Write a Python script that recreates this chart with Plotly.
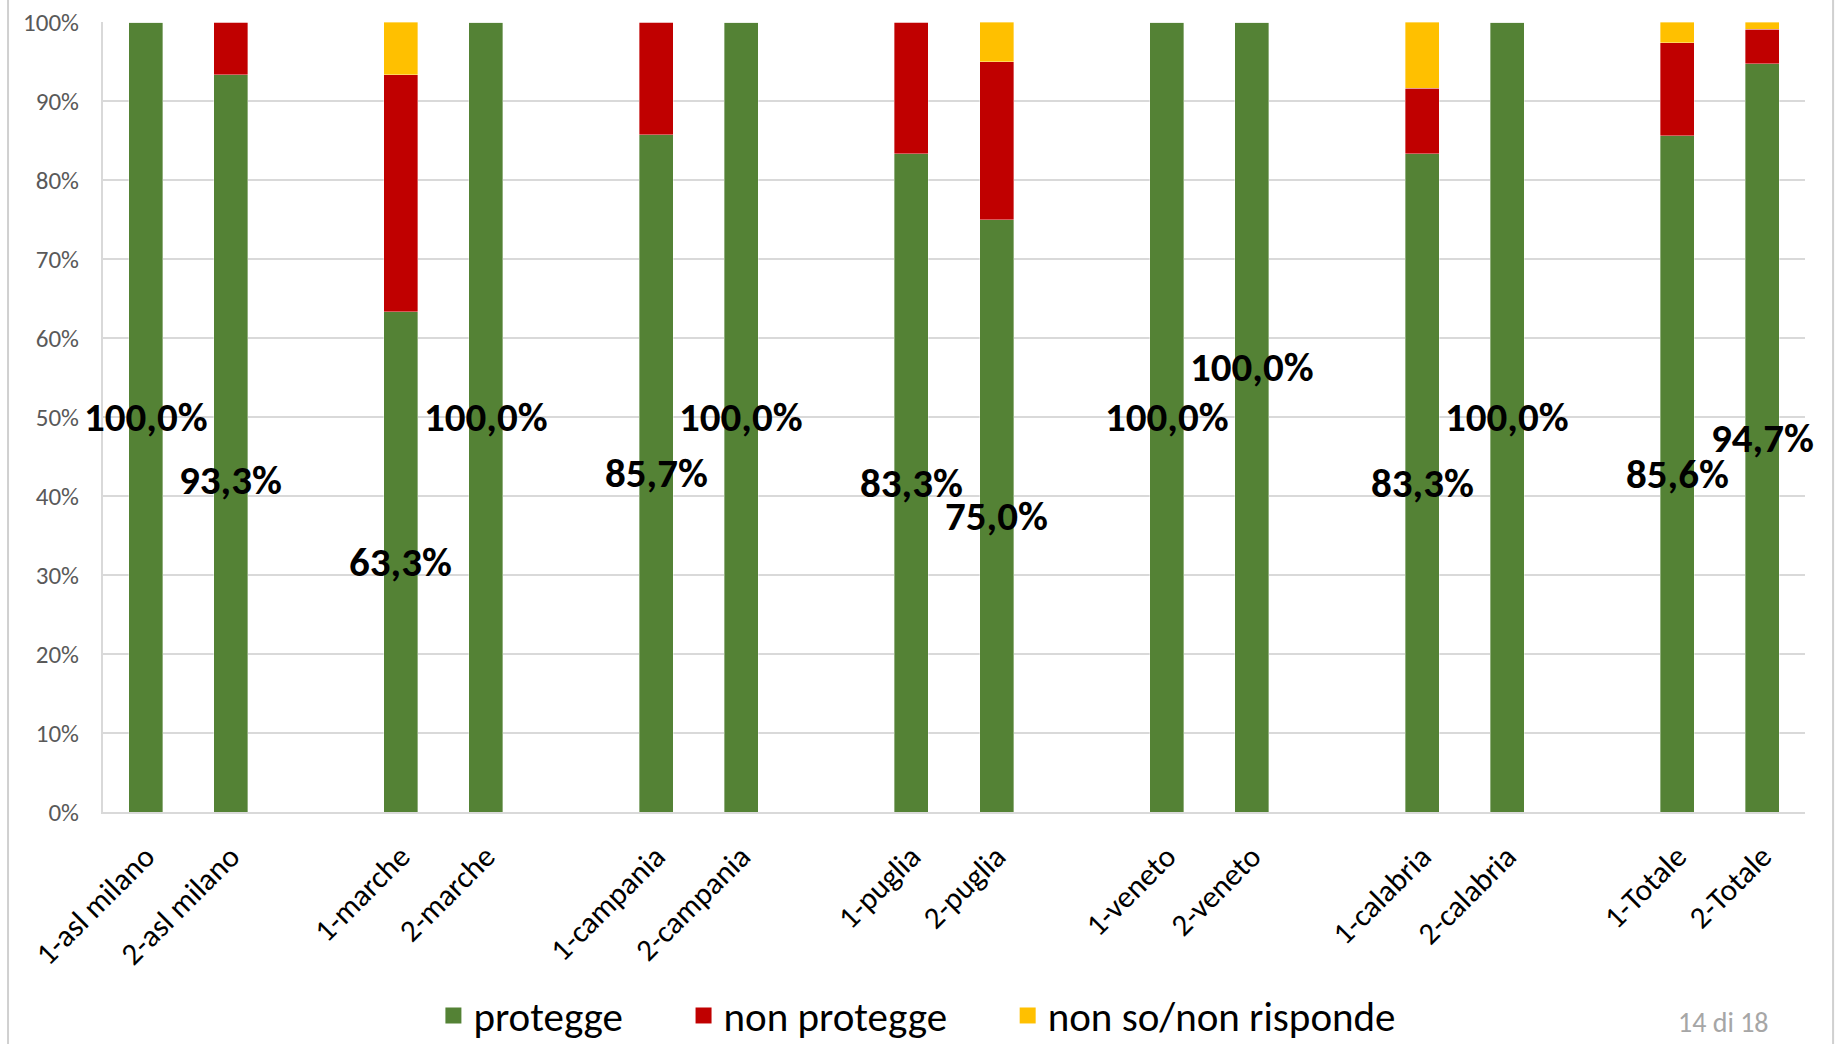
import plotly.graph_objects as go

# ---------------- data ----------------
categories = ["1-asl milano", "2-asl milano", "1-marche", "2-marche",
              "1-campania", "2-campania", "1-puglia", "2-puglia",
              "1-veneto", "2-veneto", "1-calabria", "2-calabria",
              "1-Totale", "2-Totale"]
protegge = [100.0, 93.3, 63.3, 100.0, 85.7, 100.0, 83.3, 75.0,
            100.0, 100.0, 83.3, 100.0, 85.6, 94.7]
non_protegge = [0.0, 6.7, 30.0, 0.0, 14.3, 0.0, 16.7, 20.0,
                0.0, 0.0, 8.3, 0.0, 11.8, 4.4]
non_so = [0.0, 0.0, 6.7, 0.0, 0.0, 0.0, 0.0, 5.0,
          0.0, 0.0, 8.4, 0.0, 2.6, 0.9]
series_names = ["protegge", "non protegge", "non so/non risponde"]
y_tick_values = [0, 10, 20, 30, 40, 50, 60, 70, 80, 90, 100]
y_tick_labels = [f"{v}%" for v in y_tick_values]
# data labels that were moved by hand in the original (value-axis units)
label_y_override = {"2-asl milano": 42.0, "2-veneto": 56.3}

colors = ["#548235", "#C00000", "#FFC000"]
FONT = "Carlito, Open Sans, Noto Sans, sans-serif"
NBSP = "\u00a0"

# ------------- build category axis with spacer slots between pairs -------------
x_cats = []
idx_map = []
for i, c in enumerate(categories):
    x_cats.append(c)
    idx_map.append(i)
    if i % 2 == 1 and i < len(categories) - 1:
        x_cats.append(" " * (i // 2 + 1))
        idx_map.append(None)


def spread(values):
    return [values[j] if j is not None else None for j in idx_map]


fig = go.Figure()
for k, (name, vals, col) in enumerate(zip(series_names, [protegge, non_protegge, non_so], colors)):
    fig.add_trace(go.Bar(
        x=x_cats, y=spread(vals), name=name, legendgroup=name,
        marker=dict(color=col, line=dict(width=0.6, color="rgba(255,255,255,0.6)")),
        showlegend=False, hoverinfo="x+y+name",
    ))
    # legend swatch (padding keeps the wide spacing between legend entries)
    pad = NBSP * 6 if k < len(series_names) - 1 else ""
    fig.add_trace(go.Scatter(
        x=[None], y=[None], mode="markers", name=name + pad, legendgroup=name,
        marker=dict(symbol="square", size=22, color=col), showlegend=True,
        hoverinfo="skip",
    ))

# data labels for the "protegge" series
annotations = []
for c, v in zip(categories, protegge):
    y = label_y_override.get(c, v / 2)
    annotations.append(dict(
        x=c, y=y, xref="x", yref="y", showarrow=False,
        text=f"{v:.1f}".replace(".", ",") + "%",
        font=dict(family=FONT, size=41, color="#000000", weight="bold"),
        xanchor="center", yanchor="middle",
    ))

# page number at the bottom right of the slide
annotations.append(dict(
    x=0.980, y=-0.291, xref="paper", yref="paper", showarrow=False,
    text="14 di 18", xanchor="right", yanchor="bottom",
    font=dict(family=FONT, size=28, color="#A6A6A6"),
))

fig.update_layout(
    width=1837, height=1044,
    margin=dict(l=103, r=32, t=22, b=232, autoexpand=False),
    paper_bgcolor="white", plot_bgcolor="white",
    barmode="stack", bargap=0.6,
    font=dict(family=FONT, color="#000000"),
    showlegend=True,
    legend=dict(
        orientation="h", x=0.4785, xanchor="center", y=-0.258, yanchor="middle",
        font=dict(family=FONT, size=41, color="#000000"),
        itemsizing="trace", bgcolor="rgba(0,0,0,0)",
    ),
    annotations=annotations,
    shapes=[
        dict(type="line", xref="paper", yref="paper", x0=-0.0558, x1=-0.0558,
             y0=-0.3, y1=1.03, line=dict(color="#D0D0D0", width=2)),
        dict(type="line", xref="paper", yref="paper", x0=1.0165, x1=1.0165,
             y0=-0.3, y1=1.03, line=dict(color="#D0D0D0", width=2)),
    ],
)

fig.update_xaxes(
    type="category", categoryorder="array", categoryarray=x_cats,
    range=[-0.5, len(x_cats) - 0.5], automargin=False,
    tickangle=-45, tickfont=dict(family=FONT, size=31, color="#000000"),
    showgrid=False, showline=True, linecolor="#D9D9D9", linewidth=2,
    ticks="", ticklabelstandoff=12, fixedrange=True,
)
fig.update_yaxes(
    range=[0, 100], tickmode="array", tickvals=y_tick_values, ticktext=y_tick_labels,
    tickfont=dict(family=FONT, size=25, color="#595959"), automargin=False,
    showgrid=True, gridcolor="#D9D9D9", gridwidth=2,
    showline=True, linecolor="#D9D9D9", linewidth=2,
    zeroline=False, ticks="", ticklabelstandoff=17, fixedrange=True,
)

# remove the default 8px page margin so the figure fills the window exactly
fig.write_html(
    "out.html",
    config={"displayModeBar": False},
    post_script="document.body.style.margin='0';document.body.style.overflow='hidden';",
)
